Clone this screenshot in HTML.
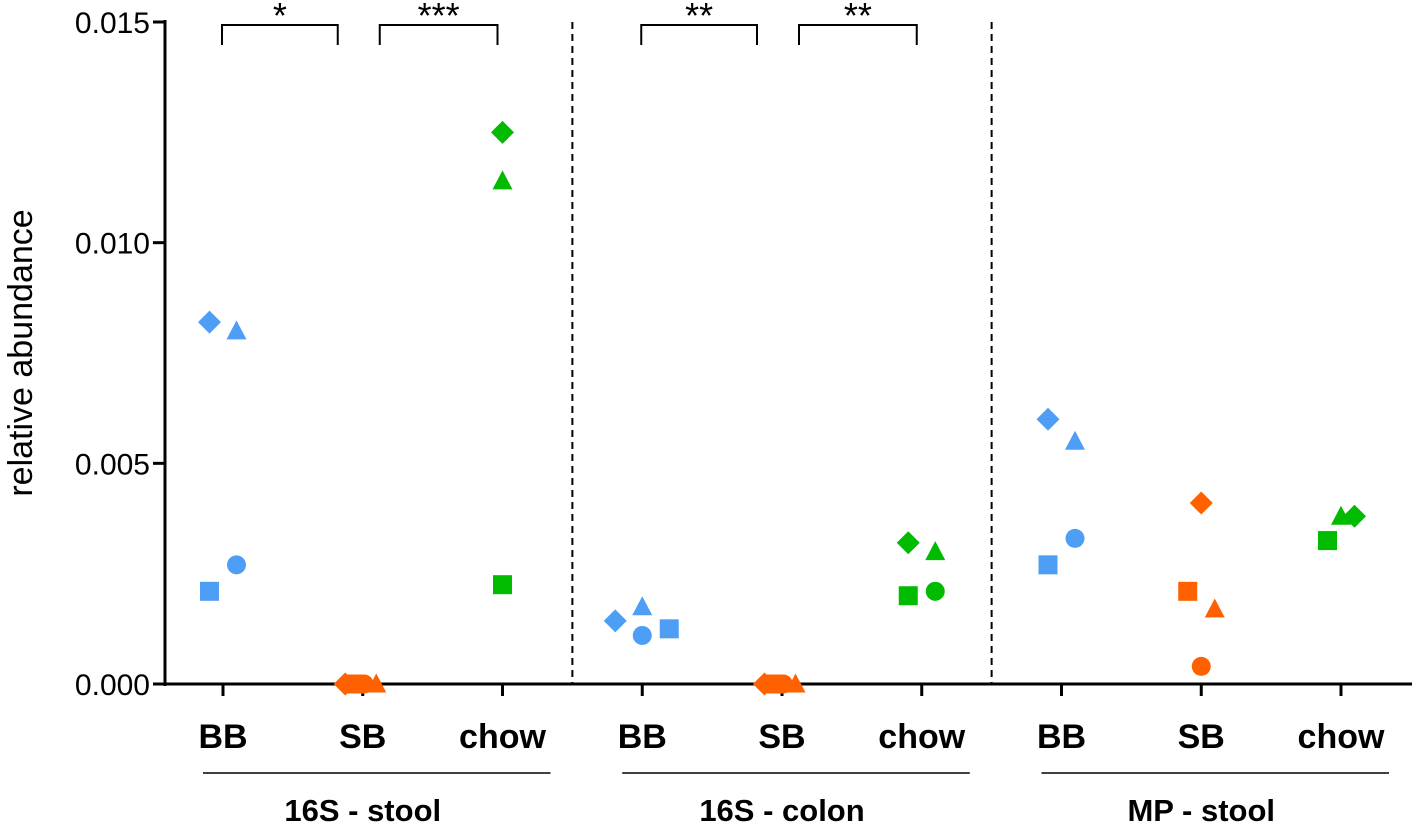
<!DOCTYPE html>
<html><head><meta charset="utf-8"><style>
html,body{margin:0;padding:0;background:#fff;}
svg text{font-family:"Liberation Sans",Arial,sans-serif;}
</style></head><body>
<svg id="chart" width="1418" height="832" xmlns="http://www.w3.org/2000/svg"></svg>
<script>
const categories=["BB","SB","chow","BB","SB","chow","BB","SB","chow"];
const groups=["16S - stool","16S - colon","MP - stool"];
const yTicks=[0,0.005,0.010,0.015];
const yTickLabels=["0.000","0.005","0.010","0.015"];
// points: [categoryIndex, jitter, shape, value]
const catIdx=[0,0,0,0, 1,1,1,1, 2,2,2, 3,3,3,3, 4,4,4,4, 5,5,5,5, 6,6,6,6, 7,7,7,7, 8,8,8];
const jitter=[-1,1,1,-1, -1.3,-0.6,0.1,1, 0,0,0, -2,0,0,2, -1.3,-0.6,0.1,1, -1,1,-1,1, -1,1,1,-1, 0,-1,1,0, -1,0,1];
const shapes=["d","t","c","s", "d","s","c","t", "d","t","s", "d","t","c","s", "d","s","c","t", "d","t","s","c", "d","t","c","s", "d","s","t","c", "s","t","d"];
const values=[0.0082,0.0080,0.0027,0.0021, 0,0,0,0, 0.0125,0.0114,0.00225, 0.00143,0.00175,0.0011,0.00125, 0,0,0,0, 0.0032,0.0030,0.0020,0.0021, 0.0060,0.0055,0.0033,0.0027, 0.0041,0.0021,0.0017,0.0004, 0.00325,0.0038,0.0038];
const colors=["#4f9ef5","#ff6000","#00bb00"];
const sigLabels=["*","***","**","**"];
const sigFrom=[0,1,3,4];

const svg=document.getElementById('chart');
const NS="http://www.w3.org/2000/svg";
function mk(tag,attrs,name,parent){const e=document.createElementNS(NS,tag);for(const k in attrs)e.setAttribute(k,attrs[k]);


(parent||svg).appendChild(e);return e;}
const x0=165,yBase=684,yTop=22;
function yS(v){return yBase-(v/0.015)*(yBase-yTop);}
function xS(i){return 223+i*139.75;}

mk('line',{x1:x0,y1:yTop-2,x2:x0,y2:yBase+2,stroke:'#000','stroke-width':3},'y-axis');
mk('line',{x1:x0,y1:yBase,x2:1412,y2:yBase,stroke:'#000','stroke-width':3},'x-axis');
yTicks.forEach((t,i)=>{
  mk('line',{x1:x0-12,y1:yS(t),x2:x0,y2:yS(t),stroke:'#000','stroke-width':3},'y-tick');
  const tx=mk('text',{x:x0-15,y:yS(t)+11,'text-anchor':'end','font-size':30},'y-tick-label');tx.textContent=yTickLabels[i];
});
const yt=mk('text',{x:32,y:353,'text-anchor':'middle','font-size':34,transform:'rotate(-90 32 353)'},'y-axis-title');yt.textContent='relative abundance';
categories.forEach((c,i)=>{
  mk('line',{x1:xS(i),y1:yBase,x2:xS(i),y2:yBase+12,stroke:'#000','stroke-width':3},'x-tick');
  const t=mk('text',{x:xS(i),y:748,'text-anchor':'middle','font-size':34,'font-weight':'bold'},'x-tick-label');t.textContent=c;
});
groups.forEach((g,i)=>{
  const a=xS(i*3)-20,b=xS(i*3+2)+48;
  mk('line',{x1:a,y1:773,x2:b,y2:773,stroke:'#000','stroke-width':1.5},'group-line');
  const t=mk('text',{x:(xS(i*3)+xS(i*3+2))/2,y:821,'text-anchor':'middle','font-size':31,'font-weight':'bold'},'group-label');t.textContent=g;
});
[1,2].forEach(i=>{const x=(xS(i*3-1)+xS(i*3))/2;
  mk('line',{x1:x,y1:yTop,x2:x,y2:yBase,stroke:'#000','stroke-width':2,'stroke-dasharray':'7,5'},'group-divider');});
sigFrom.forEach((s,i)=>{
  const a=xS(s)-1,b=xS(s+1)-25;const a2=s%3===1?xS(s)+17:a;const b2=s%3===1?xS(s+1)-5:b;
  mk('path',{d:`M${a2},45 V25 H${b2} V45`,fill:'none',stroke:'#000','stroke-width':2},'significance-bracket');
  const t=mk('text',{x:(a2+b2)/2,y:28,'text-anchor':'middle','font-size':36},'significance-label');t.textContent=sigLabels[i];
});
values.forEach((v,i)=>{
  const cx=xS(catIdx[i])+jitter[i]*13.5,cy=yS(v),col=colors[catIdx[i]%3],sh=shapes[i];const r=9.5;
  if(sh==='c')mk('circle',{cx:cx,cy:cy,r:r,fill:col},'point-circle');
  else if(sh==='s')mk('rect',{x:cx-r,y:cy-r,width:2*r,height:2*r,fill:col},'point-square');
  else if(sh==='d')mk('polygon',{points:`${cx},${cy-11.5} ${cx+11.5},${cy} ${cx},${cy+11.5} ${cx-11.5},${cy}`,fill:col},'point-diamond');
  else mk('polygon',{points:`${cx},${cy-10.5} ${cx+10},${cy+8.5} ${cx-10},${cy+8.5}`,fill:col},'point-triangle');
});
</script>
</body></html>
